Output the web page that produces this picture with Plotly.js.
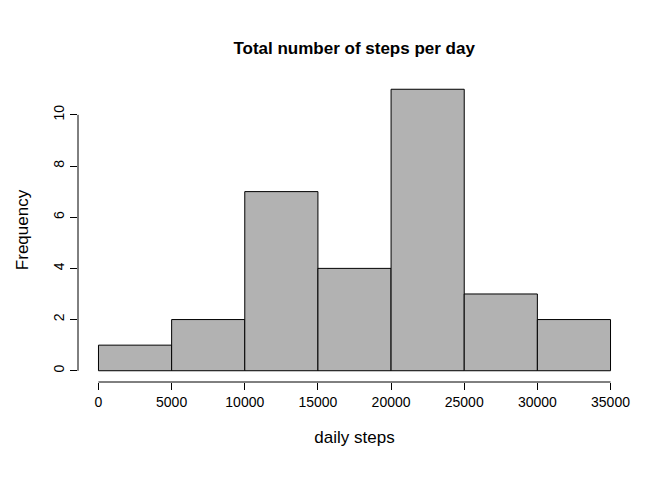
<!DOCTYPE html>
<html><head><meta charset="utf-8">
<script src="https://cdn.plot.ly/plotly-3.0.1.min.js"></script>
<style>body{margin:0;background:#fff}#chart{width:672px;height:480px}</style>
</head><body><div id="chart"></div>
<script>
// histogram bins and counts
const binStarts = [0, 5000, 10000, 15000, 20000, 25000, 30000];
const binWidth = 5000;
const counts = [1, 2, 7, 4, 11, 3, 2];
const xTicks = [0, 5000, 10000, 15000, 20000, 25000, 30000, 35000];
const yTicks = [0, 2, 4, 6, 8, 10];

const FONT = "Liberation Sans, Arial, sans-serif";
const mids = binStarts.map(s => s + binWidth / 2);

const trace = {
  type: "bar",
  x: mids,
  y: counts,
  width: binWidth,
  marker: { color: "#b2b2b2", line: { color: "#000", width: 1 } },
  hoverinfo: "skip",
};

const layout = {
  width: 672, height: 480,
  paper_bgcolor: "#fff", plot_bgcolor: "#fff",
  margin: { l: 78, r: 41, t: 78, b: 98 },
  font: { family: FONT, size: 14, color: "#000" },
  showlegend: false,
  title: { text: "<b>Total number of steps per day</b>", x: 0.527, xanchor: "center", y: 0.912, font: { size: 17 } },
  xaxis: {
    range: [-1400, 36400], showgrid: false, zeroline: false, showline: false,
    tickvals: xTicks, ticktext: xTicks.map(String), ticks: "outside", ticklen: 7, tickcolor: "#000",
    title: { text: "daily steps", standoff: 22 },
  },
  yaxis: {
    range: [-0.44, 11.44], showgrid: false, zeroline: false, showline: false,
    tickvals: yTicks, ticks: "outside", ticklen: 7, tickcolor: "#000", tickangle: -90,
    title: { text: "Frequency", standoff: 18 },
  },
  shapes: [
    { type: "line", xref: "x", yref: "paper", x0: xTicks[0], x1: xTicks[xTicks.length - 1], y0: 0, y1: 0, line: { color: "#000", width: 1 } },
    { type: "line", xref: "paper", yref: "y", x0: 0, x1: 0, y0: yTicks[0], y1: yTicks[yTicks.length - 1], line: { color: "#000", width: 1 } },
  ],
};

Plotly.newPlot("chart", [trace], layout, { displayModeBar: false, staticPlot: true });
</script></body></html>
